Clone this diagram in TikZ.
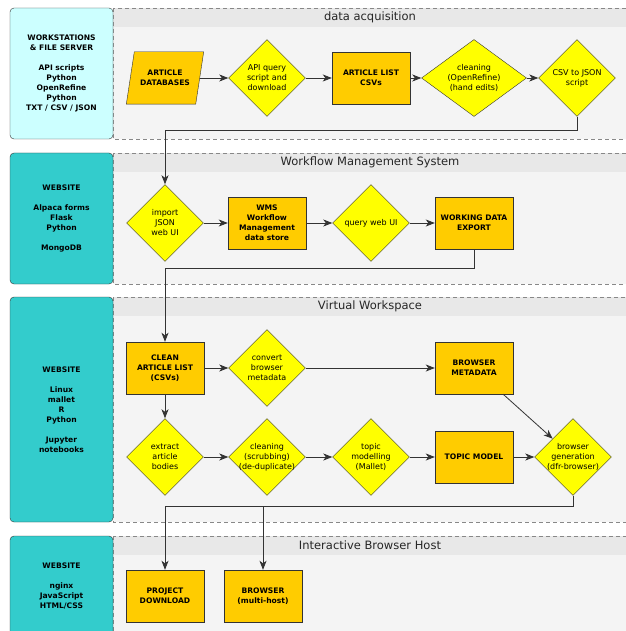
\documentclass[tikz,border=0pt]{standalone}
\usepackage{fontspec}
\setmainfont{DejaVu Sans}
\usepackage{tikz}
\usetikzlibrary{arrows.meta,positioning,shapes.geometric,shadows,backgrounds}

\definecolor{laneHead}{HTML}{E8E8E8}
\definecolor{laneBody}{HTML}{F4F4F4}
\definecolor{laneLine}{HTML}{888888}
\definecolor{hostLight}{HTML}{CCFFFF}
\definecolor{hostTeal}{HTML}{33CCCC}
\definecolor{dataOrange}{HTML}{FFCC00}
\definecolor{stepYellow}{HTML}{FFFF00}
\definecolor{lineGray}{HTML}{333333}

\tikzset{
  host/.style={draw=lineGray, rounded corners=4pt, minimum width=103pt, inner sep=0pt,
    font=\fontsize{7.6}{10}\selectfont\bfseries, align=center},
  datatext/.style={minimum width=78pt, minimum height=52pt, inner sep=1pt,
    font=\fontsize{7.6}{10}\selectfont\bfseries, align=center},
  data/.style={datatext, draw=lineGray, fill=dataOrange,
    drop shadow={shadow xshift=1pt, shadow yshift=-1pt, opacity=0.3}},
  decision/.style={diamond, draw=lineGray, fill=stepYellow, minimum width=77pt,
    minimum height=77pt, inner sep=-6pt, font=\fontsize{8}{10}\selectfont, align=center},
  flow/.style={draw=lineGray, line width=0.8pt, -{Stealth[length=9pt,width=7pt,inset=2.5pt]}},
  lanetitle/.style={font=\fontsize{11.5}{14}\selectfont, text=black!85},
}

\begin{document}
\begin{tikzpicture}[x=1pt,y=-1pt]
\useasboundingbox (0,0) rectangle (625,631);
\clip (0,0) rectangle (625,631);

% swim lanes
\begin{scope}[on background layer]
\foreach \ya/\yb/\name/\title in {8/139/acq/data acquisition,
    153/284/wms/Workflow Management System,
    297/522/vw/Virtual Workspace,
    536/636/ibh/Interactive Browser Host}{
  \fill[laneBody] (113,\ya) rectangle (627,\yb);
  \fill[laneHead] (113,\ya) rectangle (627,\ya+19);
  \draw[laneLine, dash pattern=on 4pt off 3pt] (113,\ya) rectangle (627,\yb);
  \node[lanetitle] (title-\name) at (370,\ya+9.5) {\title};
}
\end{scope}

% hosts
\node[host, fill=hostLight, minimum height=131pt] (host-acq) at (61.5,73.5)
  {WORKSTATIONS\\\& FILE SERVER\\[10pt]API scripts\\Python\\OpenRefine\\Python\\TXT / CSV / JSON};
\node[host, fill=hostTeal, minimum height=131pt] (host-wms) at (61.5,218.5)
  {WEBSITE\\[10pt]Alpaca forms\\Flask\\Python\\[10pt]MongoDB};
\node[host, fill=hostTeal, minimum height=225pt] (host-vw) at (61.5,409.5)
  {WEBSITE\\[10pt]Linux\\mallet\\R\\Python\\[10pt]Jupyter\\notebooks};
\node[host, fill=hostTeal, minimum height=100pt] (host-ibh) at (61.5,586)
  {WEBSITE\\[10pt]nginx\\JavaScript\\HTML/CSS};

% data acquisition
\node[datatext, minimum width=69pt] (db) at (165,78) {ARTICLE\\DATABASES};
\begin{scope}[on background layer]
\filldraw[fill=dataOrange, draw=lineGray]
  ([xshift=4pt]db.north west) -- ([xshift=4pt]db.north east)
  -- ([xshift=-4pt]db.south east) -- ([xshift=-4pt]db.south west) -- cycle;
\end{scope}
\node[decision] (query) at (267,78) {API query\\script and\\download};
\node[data] (list) at (371,78) {ARTICLE LIST\\CSVs};
\node[decision, minimum width=105pt, shape aspect=1.36] (refine) at (474,78)
  {cleaning\\(OpenRefine)\\(hand edits)};
\node[decision] (tojson) at (577,78) {CSV to JSON\\script};

% workflow management system
\node[decision] (import) at (165,223) {import\\JSON\\web UI};
\node[data] (store) at (267,223) {WMS\\Workflow\\Management\\data store};
\node[decision] (webui) at (371,223) {query web UI};
\node[data] (export) at (474,223) {WORKING DATA\\EXPORT};

% virtual workspace
\node[data] (clean) at (165,368) {CLEAN\\ARTICLE LIST\\(CSVs)};
\node[decision] (convert) at (267,368) {convert\\browser\\metadata};
\node[data] (meta) at (474,368) {BROWSER\\METADATA};
\node[decision] (extract) at (165,457) {extract\\article\\bodies};
\node[decision] (scrub) at (267,457) {cleaning\\(scrubbing)\\(de-duplicate)};
\node[decision] (mallet) at (371,457) {topic\\modelling\\(Mallet)};
\node[data] (model) at (474,457) {TOPIC MODEL};
\node[decision] (gen) at (573,457) {browser\\generation\\(dfr-browser)};

% interactive browser host
\node[data] (download) at (165,596) {PROJECT\\DOWNLOAD};
\node[data] (multihost) at (263,596) {BROWSER\\(multi-host)};

% connectors
\draw[flow] (db) -- (query);
\draw[flow] (query) -- (list);
\draw[flow] (list) -- (refine);
\draw[flow] (refine) -- (tojson);
\draw[flow] (tojson.south) -- ++(0,14) -| (import.north);
\draw[flow] (import) -- (store);
\draw[flow] (store) -- (webui);
\draw[flow] (webui) -- (export);
\draw[flow] (export.south) -- ++(0,19) -| (clean.north);
\draw[flow] (clean) -- (convert);
\draw[flow] (convert) -- (meta);
\draw[flow] (clean) -- (extract);
\draw[flow] (extract) -- (scrub);
\draw[flow] (scrub) -- (mallet);
\draw[flow] (mallet) -- (model);
\draw[flow] (model) -- (gen);
\draw[flow] (meta) -- (gen);
\draw[draw=lineGray, line width=0.8pt] (gen.south) -- ++(0,11) coordinate (fork);
\draw[flow] (fork) -| (download.north);
\draw[flow] (fork) -| (multihost.north);
\end{tikzpicture}
\end{document}
